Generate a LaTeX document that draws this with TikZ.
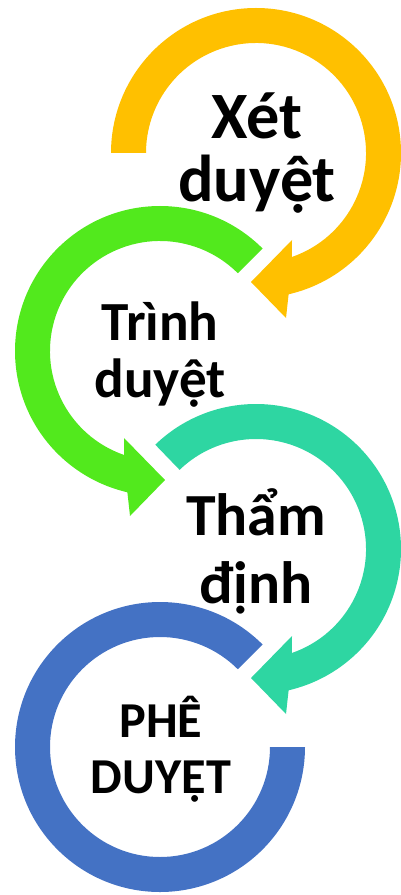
\documentclass[tikz,border=0pt]{standalone}
\usepackage{fontspec}
\setmainfont{Carlito}
\usepackage{xcolor}
\usepackage{tikz}
\usetikzlibrary{calc}
\definecolor{ringyellow}{HTML}{FFC000}
\definecolor{ringgreen}{HTML}{52E91D}
\definecolor{ringteal}{HTML}{2ED6A2}
\definecolor{ringblue}{HTML}{4472C4}
% clockwise ring with head at the bottom: centre, colour, start angle
\newcommand{\ringcw}[3]{%
  \fill[#2] ($(#1)+(#3:145)$) arc[start angle=#3, end angle=-77, radius=145]
    -- ($(#1)+(30,-165)$) -- ($(#1)+(-5,-129)$) -- ($(#1)+(36,-87)$)
    -- ($(#1)+(-71:110)$) arc[start angle=-71, end angle=#3, radius=110] -- cycle;}
% counter-clockwise ring with head at the bottom
\newcommand{\ringccw}[3]{%
  \fill[#2] ($(#1)+(#3:145)$) arc[start angle=#3, end angle=257, radius=145]
    -- ($(#1)+(-30,-165)$) -- ($(#1)+(5,-129)$) -- ($(#1)+(-36,-87)$)
    -- ($(#1)+(251:110)$) arc[start angle=251, end angle=#3, radius=110] -- cycle;}

\begin{document}
\begin{tikzpicture}[
    x=0.2mm, y=0.2mm,
    steplabel/.style={align=center, inner sep=0pt, anchor=base, text=black}
]
    \useasboundingbox (0,0) rectangle (401,-895);

    % Centres
    \coordinate (cxet) at (256,-153);
    \coordinate (ctrinh) at (160,-351);
    \coordinate (ctham) at (256,-549);
    \coordinate (cphe) at (160,-747);

    % Rings
    \ringcw{cxet}{ringyellow}{180}
    \ringccw{ctrinh}{ringgreen}{45}
    \ringcw{ctham}{ringteal}{134}
    \fill[ringblue] ($(cphe)+(45:145)$) arc[start angle=45, end angle=360, radius=145]
        -- ($(cphe)+(0:110)$) arc[start angle=360, end angle=45, radius=110] -- cycle;

    % Labels (base = last line)
    \node[steplabel, font=\bfseries\fontsize{37.7}{36.3}\selectfont] (xet) at (257,-202) {Xét\\duyệt};
    \node[steplabel, font=\bfseries\fontsize{31.4}{32.3}\selectfont] (trinh) at (160,-397) {Trình\\duyệt};
    \node[steplabel, font=\bfseries\fontsize{34}{38.6}\selectfont] (tham) at (256,-603) {Thẩm\\định};
    \node[steplabel, font=\bfseries\fontsize{28.6}{31.8}\selectfont] (phe) at (161,-793) {PHÊ\\DUYỆT};
\end{tikzpicture}
\end{document}
